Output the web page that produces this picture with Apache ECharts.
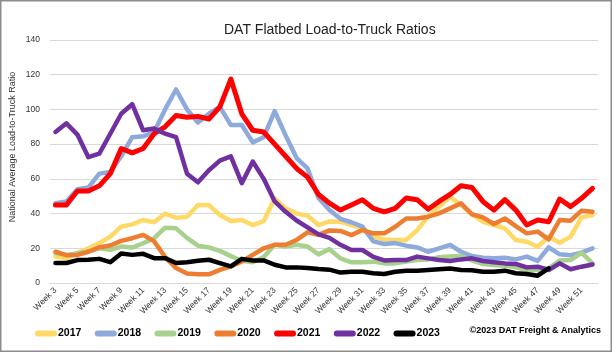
<!DOCTYPE html>
<html>
<head>
<meta charset="utf-8">
<script src="https://cdn.jsdelivr.net/npm/echarts@6/dist/echarts.min.js"></script>
<style>html,body{margin:0;padding:0;background:#fff}#c{width:612px;height:352px}</style>
</head>
<body>
<div id="c"></div>
<script>
var weeks = ['Week 3','Week 4','Week 5','Week 6','Week 7','Week 8','Week 9','Week 10','Week 11','Week 12',
  'Week 13','Week 14','Week 15','Week 16','Week 17','Week 18','Week 19','Week 20','Week 21','Week 22',
  'Week 23','Week 24','Week 25','Week 26','Week 27','Week 28','Week 29','Week 30','Week 31','Week 32',
  'Week 33','Week 34','Week 35','Week 36','Week 37','Week 38','Week 39','Week 40','Week 41','Week 42',
  'Week 43','Week 44','Week 45','Week 46','Week 47','Week 48','Week 49','Week 50','Week 51','Week 52'];

var y2017 = [15.3,14.3,17.2,20,23,26.7,32.5,33.8,36.3,35, 40,37.6,38.2,44.9,44.9,39.2,35.7,36.3,33.4,35.7,
  48.7,43,40,38.8,33.4,35.5,35.3,33.4,31.5,26.7, 25.1,24.8,24.8,30.5,38.2,44,49.7,44.9,39.6,35.3,
  33.4,31.5,24.8,23.8,20.9,26.7,23.2,26.7,37.8,39.2];
var y2018 = [46,47,54,55,63,64,73,84,84.5,87, 100,111.5,100,92.5,97.5,101.5,91,91,81,84,
  99,85,72,66,49,42,37,35,32.5,24, 22.5,23,21.5,20.5,18,20,22,18,15.5,14.5,
  14.2,14.6,13.6,15.2,12.7,20.5,16.5,16,17.5,20];
var y2019 = [17.2,16.2,17.2,18.1,20,19.1,21,20.4,22.9,25.8, 31.9,31.5,26,21.5,20.5,18.5,15.5,12.8,12,15,
  22,21,22,21,16.5,19.5,14.2,11.9,11.9,12.3, 11.3,11.3,12.3,13.2,13.6,14.8,15.2,15.5,13,10.9,
  10.4,10,9,7.5,7.5,8.4,12.9,13.2,17.5,11.3];
var y2020 = [18,16,16.2,18,20.6,21.6,24.3,25.8,27.7,24, 15,8.6,5.5,5,5,7.6,9.6,12.4,16.2,20,
  22,22,24.8,29.2,27.7,30.3,30,27.6,30.5,28.6, 28.6,32.4,37.2,37.2,38.2,40.1,43,45.9,39.6,37.8,
  34,37.2,32.8,28.6,29.6,25.1,36.3,35.9,41.7,41.1];
var y2021 = [45,45,53,53,56,63,77.5,75,77.5,86, 90,96.5,95.5,96,94.5,101.5,117.5,97.5,88,87,
  80,73,66,61,51,46,42,45,48,43, 41,43,49,48,42.5,47,51,56,55,47,
  42,48,42,33.4,36.3,35.3,48.4,44,48.8,54.5];
var y2022 = [87,92,85.5,72.5,74.5,86,97.5,103,88,89, 86,84,63,58,65,70.5,73,57.5,70,60,
  47,41,36,32,28,26,22,19,19,15, 13,13.2,13.2,15.2,14.2,13.2,12.7,13.6,14.2,12.7,
  12,11.3,11,9,9.4,7.5,11.3,7.9,9.4,10.7];
var y2023 = [11.5,11.5,13.2,13.4,13.9,12,17,16.2,16.8,14.3, 14.3,11.5,12,12.8,13.4,11.5,9.6,13.9,13,13,
  10.5,9,9,8.6,8,7.7,6,6.5,6.5,5.6, 5.2,6.5,7.1,7.1,7.5,7.9,8.4,7.5,7.3,6.5,
  6.5,7.1,5.6,5.2,4.2,8.4,null,null,null,null];

var seriesNames = ['2017','2018','2019','2020','2021','2022','2023'];
var seriesData = [y2017,y2018,y2019,y2020,y2021,y2022,y2023];
var colors = ['#FFD966','#8EA9DB','#A9D18E','#ED7D31','#FF0000','#7030A0','#000000'];
var widths = [4.5,4.5,4.5,4.5,5,4.5,4.5];

var FONT = 'Liberation Sans';
var chart = echarts.init(document.getElementById('c'), null, {renderer:'canvas'});
var series = seriesNames.map(function(n,i){
  return {
    name:n, type:'line', data:seriesData[i], showSymbol:false, symbol:'none',
    connectNulls:false, animation:false,
    lineStyle:{color:colors[i], width:widths[i], cap:'round', join:'round'},
    itemStyle:{color:colors[i]}
  };
});
chart.setOption({
  animation:false,
  backgroundColor:'#fff',
  title:{text:'DAT Flatbed Load-to-Truck Ratios', left:219, top:18,
    textStyle:{fontFamily:FONT, fontSize:14, fontWeight:'normal', color:'#222'}},
  grid:{left:50, right:14, top:40, bottom:69},
  legend:{
    data:seriesNames, left:30, top:323, itemWidth:22, itemHeight:6, itemGap:13.4,
    icon:'path://M3,0H19A3,3,0,0,1,19,6H3A3,3,0,0,1,3,0Z',
    textStyle:{fontFamily:FONT, fontSize:10.5, fontWeight:'bold', color:'#000', padding:[0,0,0,-4]}
  },
  xAxis:{type:'category', data:weeks, boundaryGap:true,
    axisLine:{show:true, lineStyle:{color:'#d9d9d9', width:1}},
    axisTick:{show:false},
    axisLabel:{interval:1, rotate:45, margin:6, fontFamily:FONT, fontSize:8.5, color:'#333'}
  },
  yAxis:{type:'value', min:0, max:140, interval:20,
    axisLine:{show:false}, axisTick:{show:false},
    axisLabel:{margin:10, fontFamily:FONT, fontSize:8.5, color:'#333'},
    splitLine:{lineStyle:{color:'#d9d9d9', width:1}}
  },
  graphic:[
    {type:'rect', shape:{x:0.75,y:0.75,width:610.5,height:350.5}, style:{fill:'none', stroke:'#8c8c8c', lineWidth:1.5}, z:100},
    {type:'text', x:12.5, y:147, rotation:Math.PI/2,
      style:{text:'National Average Load-to-Truck Ratio', fontFamily:FONT, fontSize:9, fill:'#333', textAlign:'center', textVerticalAlign:'middle'}},
    {type:'text', x:601, y:331,
      style:{text:'\u00a92023 DAT Freight & Analytics', fontFamily:FONT, fontSize:9, fontWeight:'bold', fill:'#000', textAlign:'right', textVerticalAlign:'middle'}}
  ],
  series:series
});
</script>
</body>
</html>
